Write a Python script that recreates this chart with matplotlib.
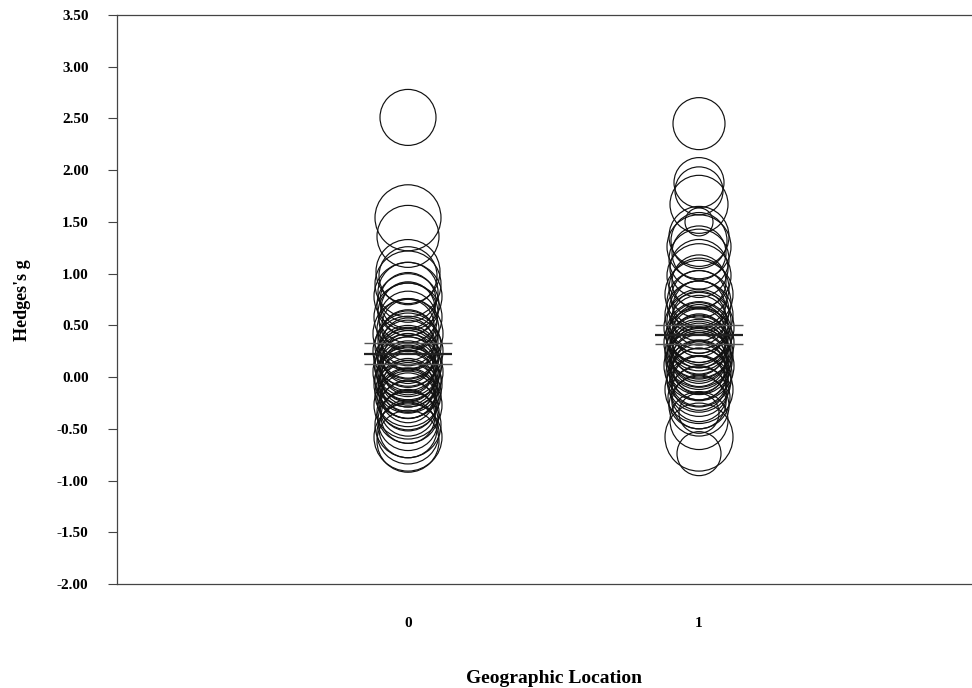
import matplotlib
matplotlib.use("Agg")
import matplotlib.pyplot as plt

# Hedges's g and marker radius (px) for each study, by geographic location
g_loc0 = [2.51, 1.54, 1.36, 1.02, 0.98, 0.90, 0.82, 0.78, 0.74, 0.70, 0.66, 0.62,
          0.58, 0.55, 0.50, 0.46, 0.42, 0.38, 0.35, 0.32, 0.30, 0.27, 0.25, 0.22,
          0.20, 0.18, 0.16, 0.14, 0.12, 0.10, 0.08, 0.06, 0.05, 0.03, 0.01, -0.01,
          -0.03, -0.05, -0.07, -0.09, -0.11, -0.13, -0.16, -0.18, -0.21, -0.24,
          -0.27, -0.30, -0.34, -0.38, -0.42, -0.46, -0.50, -0.54, -0.58, -0.62]
r_loc0 = [28, 33, 31, 32, 29, 33, 30, 34, 28, 31, 27, 30,
          34, 29, 26, 31, 35, 28, 30, 26, 33, 29, 35, 27,
          31, 25, 30, 34, 28, 33, 26, 30, 35, 28, 31, 27,
          33, 29, 34, 26, 30, 28, 33, 27, 31, 29,
          34, 28, 31, 27, 30, 33, 29, 31, 34, 31]

g_loc1 = [2.45, 1.88, 1.80, 1.67, 1.50, 1.36, 1.32, 1.26, 1.20, 1.14, 1.05, 0.98,
          0.92, 0.86, 0.80, 0.76, 0.72, 0.68, 0.64, 0.60, 0.57, 0.54, 0.51, 0.48,
          0.45, 0.43, 0.41, 0.39, 0.37, 0.35, 0.33, 0.31, 0.29, 0.27, 0.25, 0.23,
          0.21, 0.19, 0.17, 0.15, 0.13, 0.11, 0.09, 0.07, 0.05, 0.03, 0.00, -0.03,
          -0.06, -0.09, -0.12, -0.16, -0.20, -0.24, -0.28, -0.35, -0.42, -0.58, -0.74]
r_loc1 = [26, 25, 24, 29, 14, 30, 28, 32, 27, 30, 29, 32,
          27, 30, 34, 28, 32, 26, 30, 34, 27, 32, 29, 35,
          26, 30, 33, 28, 32, 27, 35, 29, 32, 26, 30, 34,
          28, 32, 27, 33, 29, 35, 26, 30, 28, 33, 29, 32,
          27, 30, 34, 28, 31, 27, 30, 20, 29, 34, 22]

# pooled mean with lower / upper bounds per group
locations = [0, 1]
mean_g = [0.222, 0.406]
lower_g = [0.126, 0.316]
upper_g = [0.326, 0.503]

fig = plt.figure(figsize=(9.72, 6.88), dpi=100)
ax = fig.add_axes([117 / 972, 1 - 584 / 688, 873 / 972, 569 / 688])

px_to_pt = 72 / 100
for loc, g, r in [(0, g_loc0, r_loc0), (1, g_loc1, r_loc1)]:
    sizes = [(2 * ri * px_to_pt) ** 2 for ri in r]
    ax.scatter([loc] * len(g), g, s=sizes, facecolors="none",
               edgecolors="#111111", linewidths=0.85, zorder=2)

half = 0.152
for loc, m, lo, hi in zip(locations, mean_g, lower_g, upper_g):
    ax.hlines([lo, hi], loc - half, loc + half, colors="#555555", linewidth=1.0, zorder=3)
    ax.hlines(m, loc - half, loc + half, colors="#222222", linewidth=1.6, zorder=3)

ax.set_xlim(-1, 2)
ax.set_ylim(-2.0, 3.5)
ax.set_yticks([-2.0 + 0.5 * i for i in range(12)])
ax.set_yticklabels([f"{-2.0 + 0.5 * i:.2f}" for i in range(12)])
ax.set_xticks(locations)
ax.set_xticklabels(["0", "1"])

for lab in ax.get_xticklabels() + ax.get_yticklabels():
    lab.set_fontfamily("Liberation Serif")
    lab.set_fontweight("bold")
    lab.set_fontsize(11)

ax.tick_params(axis="y", direction="out", length=6.5, width=0.8, color="#444444", pad=14)
ax.tick_params(axis="x", length=0, pad=24)

for side in ["left", "top", "bottom"]:
    ax.spines[side].set_color("#444444")
    ax.spines[side].set_linewidth(0.9)
ax.spines["right"].set_visible(False)

ax.set_ylabel("Hedges's g", fontfamily="Liberation Serif", fontweight="bold", fontsize=13)
ax.yaxis.set_label_coords(-(117 - 31) / 873, (584 - 300) / 569)
ax.set_xlabel("Geographic Location", fontfamily="Liberation Serif", fontweight="bold",
              fontsize=14, va="top")
ax.xaxis.set_label_coords(0.5, -(670 - 584) / 569)

fig.savefig("out.png", dpi=100)
